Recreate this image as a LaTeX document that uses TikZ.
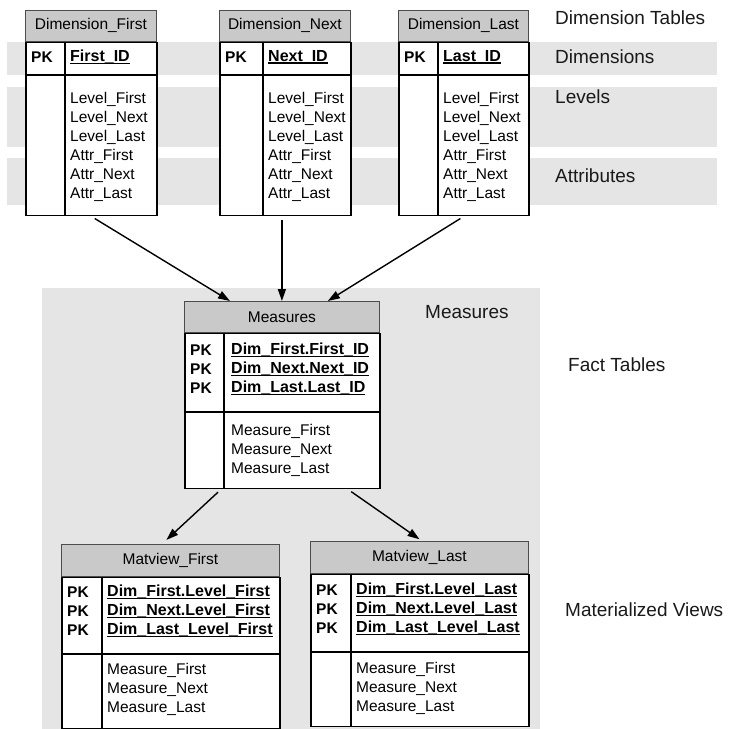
\documentclass[tikz,border=0pt]{standalone}
\usepackage{fontspec}
\setmainfont{Liberation Sans}
\usetikzlibrary{arrows.meta}

\newcommand\tabfont{\fontsize{15.5}{19}\selectfont}
\newcommand\lblfont{\fontsize{19}{23}\selectfont}
\newsavebox\keybox
\newcommand\keyname[1]{\sbox\keybox{\fontsize{16}{19}\selectfont\bfseries #1}\rlap{\rule[-2.6pt]{\wd\keybox}{1.5pt}}\usebox\keybox}

\begin{document}
\begin{tikzpicture}[x=1pt, y=-1pt,
    band/.style={fill=black!10},
    head/.style={draw=black!70, fill=black!21, line width=0.8pt, inner sep=0pt, anchor=north west, font=\tabfont},
    body/.style={draw=black, fill=white, line width=1.6pt, inner sep=0pt, anchor=north west},
    rule/.style={draw=black, line width=1.6pt},
    txt/.style={inner sep=0pt, anchor=west, align=left, font=\tabfont},
    pk/.style={txt, font={\tabfont\bfseries}},
    lbl/.style={inner sep=0pt, anchor=west, font=\lblfont, text=black!90},
    link/.style={-{Triangle[length=12pt,width=8pt]}, line width=1.4pt, shorten <=4pt},
]

        \useasboundingbox (0,0) rectangle (729,729);

        % grey bands
        \fill[band] (7,42) rectangle (717,75);
        \fill[band] (7,87) rectangle (717,147);
        \fill[band] (7,158) rectangle (717,205);
        \fill[band] (42,288) rectangle (540,729);

        \node[lbl] (ldimtab) at (555,18) {Dimension Tables};
        \node[lbl] (ldim) at (555,57) {Dimensions};
        \node[lbl] (llev) at (555,97) {Levels};
        \node[lbl] (lattr) at (555,176) {Attributes};
        \node[lbl] (lmeas) at (425,312) {Measures};
        \node[lbl] (lfact) at (568,365) {Fact Tables};
        \node[lbl] (lmatv) at (565,610) {Materialized Views};

        % dimension tables
        \node[head, minimum width=131, minimum height=31] (dfirst) at (25,10) {Dimension\_First};
        \node[body, minimum width=131, minimum height=173] (dfirstb) at (dfirst.south west) {};
        \draw[rule] ([yshift=-33pt]dfirstb.north west) -- ([yshift=-33pt]dfirstb.north east);
        \draw[rule] ([xshift=40pt]dfirstb.north west) -- ([xshift=40pt]dfirstb.south west);
        \node[pk] (dfirstpk) at (31,57) {PK};
        \node[txt] (dfirstid) at (70,57) {\keyname{First\_ID}};
        \node[txt] (dfirsta) at (70,147) {Level\_First\\Level\_Next\\Level\_Last\\Attr\_First\\Attr\_Next\\Attr\_Last};

        \node[head, minimum width=131, minimum height=31] (dnext) at (219,10) {Dimension\_Next};
        \node[body, minimum width=131, minimum height=173] (dnextb) at (dnext.south west) {};
        \draw[rule] ([yshift=-33pt]dnextb.north west) -- ([yshift=-33pt]dnextb.north east);
        \draw[rule] ([xshift=44pt]dnextb.north west) -- ([xshift=44pt]dnextb.south west);
        \node[pk] (dnextpk) at (225,57) {PK};
        \node[txt] (dnextid) at (268,57) {\keyname{Next\_ID}};
        \node[txt] (dnexta) at (268,147) {Level\_First\\Level\_Next\\Level\_Last\\Attr\_First\\Attr\_Next\\Attr\_Last};

        \node[head, minimum width=130, minimum height=31] (dlast) at (398,10) {Dimension\_Last};
        \node[body, minimum width=130, minimum height=173] (dlastb) at (dlast.south west) {};
        \draw[rule] ([yshift=-33pt]dlastb.north west) -- ([yshift=-33pt]dlastb.north east);
        \draw[rule] ([xshift=40pt]dlastb.north west) -- ([xshift=40pt]dlastb.south west);
        \node[pk] (dlastpk) at (404,57) {PK};
        \node[txt] (dlastid) at (443,57) {\keyname{Last\_ID}};
        \node[txt] (dlasta) at (443,147) {Level\_First\\Level\_Next\\Level\_Last\\Attr\_First\\Attr\_Next\\Attr\_Last};

        % fact table
        \node[head, minimum width=195, minimum height=31] (meas) at (184,301) {Measures};
        \node[body, minimum width=195, minimum height=155] (measb) at (meas.south west) {};
        \draw[rule] ([yshift=-79pt]measb.north west) -- ([yshift=-79pt]measb.north east);
        \draw[rule] ([xshift=40pt]measb.north west) -- ([xshift=40pt]measb.south west);
        \node[pk] (measpk) at (190,369) {PK\\PK\\PK};
        \node[txt] (measid) at (231,369) {\keyname{Dim\_First.First\_ID}\\\keyname{Dim\_Next.Next\_ID}\\\keyname{Dim\_Last.Last\_ID}};
        \node[txt] (measm) at (231,450) {Measure\_First\\Measure\_Next\\Measure\_Last};

        % materialized views
        \node[head, minimum width=218, minimum height=32] (mvfirst) at (61,544) {Matview\_First};
        \node[body, minimum width=218, minimum height=151] (mvfirstb) at (mvfirst.south west) {};
        \draw[rule] ([yshift=-77pt]mvfirstb.north west) -- ([yshift=-77pt]mvfirstb.north east);
        \draw[rule] ([xshift=41pt]mvfirstb.north west) -- ([xshift=41pt]mvfirstb.south west);
        \node[pk] (mvfirstpk) at (67,611) {PK\\PK\\PK};
        \node[txt] (mvfirstid) at (107,611) {\keyname{Dim\_First.Level\_First}\\\keyname{Dim\_Next.Level\_First}\\\keyname{Dim\_Last\_Level\_First}};
        \node[txt] (mvfirstm) at (107,689) {Measure\_First\\Measure\_Next\\Measure\_Last};

        \node[head, minimum width=218, minimum height=32] (mvlast) at (310,541) {Matview\_Last};
        \node[body, minimum width=218, minimum height=152] (mvlastb) at (mvlast.south west) {};
        \draw[rule] ([yshift=-78pt]mvlastb.north west) -- ([yshift=-78pt]mvlastb.north east);
        \draw[rule] ([xshift=41pt]mvlastb.north west) -- ([xshift=41pt]mvlastb.south west);
        \node[pk] (mvlastpk) at (316,609) {PK\\PK\\PK};
        \node[txt] (mvlastid) at (356,609) {\keyname{Dim\_First.Level\_Last}\\\keyname{Dim\_Next.Level\_Last}\\\keyname{Dim\_Last\_Level\_Last}};
        \node[txt] (mvlastm) at (356,688) {Measure\_First\\Measure\_Next\\Measure\_Last};

        % arrows
        \draw[link] (dfirstb.south) -- ([xshift=46pt]meas.north west);
        \draw[link] (meas.north |- dnextb.south) -- (meas.north);
        \draw[link] (dlastb.south) -- ([xshift=-52pt]meas.north east);
        \draw[link, shorten >=6pt] ([xshift=37pt]measb.south west) -- ([xshift=101pt]mvfirst.north west);
        \draw[link, shorten >=3pt] ([xshift=164pt]measb.south west) -- ([xshift=112pt]mvlast.north west);
    \end{tikzpicture}
\end{document}
